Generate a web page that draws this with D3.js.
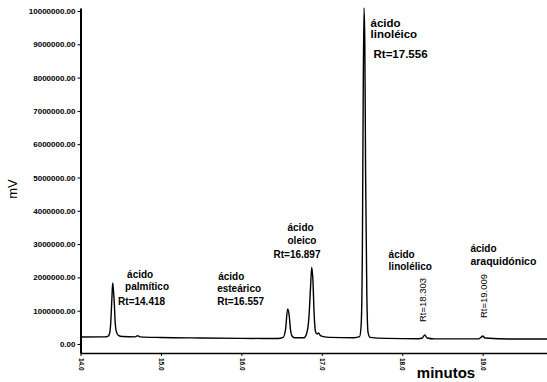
<!DOCTYPE html>
<html>
<head>
<meta charset="utf-8">
<script src="https://cdn.jsdelivr.net/npm/d3@7"></script>
<style>
  body { margin: 0; background: #fff; }
  text { font-family: Arial, "Liberation Sans", sans-serif; fill: #000; }
</style>
</head>
<body>
<svg id="chart" width="547" height="382"></svg>
<script>
// chromatogram trace (minutes, mV)
const traceTime = [14.00, 14.30, 14.34, 14.36, 14.375, 14.39, 14.40, 14.41, 14.42, 14.43, 14.445, 14.47, 14.52,
  14.68, 14.71, 14.74, 15.00, 15.50, 16.00, 16.45, 16.52, 16.55, 16.575, 16.595, 16.61, 16.63, 16.66,
  16.78, 16.81, 16.84, 16.86, 16.875, 16.89, 16.905, 16.92, 16.94, 16.96, 16.98, 17.02, 17.10, 17.40,
  17.47, 17.49, 17.505, 17.515, 17.525, 17.535, 17.545, 17.56, 17.575, 17.60, 17.80, 18.20, 18.25,
  18.28, 18.31, 18.40, 18.95, 18.98, 19.00, 19.03, 19.40, 19.80];
const traceSignal = [210000, 215000, 230000, 300000, 600000, 1350000, 1830000, 1600000, 1250000, 700000, 380000, 260000, 225000,
  215000, 250000, 215000, 195000, 180000, 170000, 165000, 200000, 450000, 1050000, 850000, 450000, 240000, 190000,
  190000, 300000, 800000, 1700000, 2310000, 1900000, 900000, 400000, 300000, 330000, 260000, 220000, 200000, 190000,
  220000, 600000, 3000000, 7500000, 10090000, 9000000, 5000000, 1500000, 350000, 200000, 170000, 160000, 180000,
  270000, 180000, 155000, 155000, 200000, 240000, 180000, 150000, 150000];

const xTicks = [14, 15, 16, 17, 18, 19];
const yTicks = [0, 1000000, 2000000, 3000000, 4000000, 5000000, 6000000, 7000000, 8000000, 9000000, 10000000];

const peakNames = ["palmítico", "esteárico", "oleico", "linoléico", "linolélico", "araquidónico"];
const peakRt = [14.418, 16.557, 16.897, 17.556, 18.303, 19.009];

class Chromatogram {
  constructor(svgId) {
    this.svg = d3.select(svgId);
  }

  draw() {
    let svg = this.svg;
    let xScale = d3.scaleLinear().domain([14, 19.8]).range([80.5, 547]);
    let yScale = d3.scaleLinear().domain([-270000, 10090000]).range([353, 8]);

    // axes
    let yAxis = d3.axisLeft(yScale).tickValues(yTicks).tickSize(3).tickSizeOuter(0)
      .tickFormat(d3.format(".2f"));
    let gy = svg.append("g").attr("transform", "translate(80.5,0)").call(yAxis);
    gy.select(".domain").attr("stroke-width", 2);
    gy.selectAll("text").style("font-size", "8px").style("font-weight", "bold").attr("x", -5);

    let xAxis = d3.axisBottom(xScale).tickValues(xTicks).tickSize(3).tickSizeOuter(0)
      .tickFormat(d3.format(".1f"));
    let gx = svg.append("g").attr("transform", "translate(0,353)").call(xAxis);
    gx.select(".domain").attr("stroke-width", 1.5);
    gx.selectAll("text")
      .style("font-size", "6.5px").style("font-weight", "bold")
      .attr("y", 0).attr("x", 5).attr("dy", "0.35em")
      .attr("transform", "rotate(90)")
      .style("text-anchor", "start");

    // trace
    let pts = traceTime.map((t, i) => [t, traceSignal[i]]);
    let line = d3.line().x(d => xScale(d[0])).y(d => yScale(d[1])).curve(d3.curveMonotoneX);
    svg.append("path").datum(pts)
      .attr("d", line)
      .attr("fill", "none")
      .attr("stroke", "#000")
      .attr("stroke-width", 1.4);

    // axis titles
    svg.append("text").text("mV")
      .attr("transform", "translate(17,189) rotate(-90)")
      .style("text-anchor", "middle").style("font-size", "13px");
    svg.append("text").text("minutos")
      .attr("x", 446).attr("y", 378)
      .style("text-anchor", "middle").style("font-size", "15px").style("font-weight", "bold");

    // peak labels: [dx line1, dx line2, dx rt, y line1, y line2, y rt, font]
    let layout = [
      [13, 11, 4, 278, 290, 305, 10],
      [-68, -69, -69, 280, 292, 305, 10],
      [-26, -26, -40, 231, 244, 258, 10],
      [4, 4, 7, 27, 38, 58, 11.5]
    ];
    layout.forEach((l, i) => {
      let px = xScale(peakRt[i]);
      let g = svg.append("g").style("font-size", l[6] + "px").style("font-weight", "bold");
      g.append("text").text("ácido").attr("x", px + l[0]).attr("y", l[3]);
      g.append("text").text(peakNames[i]).attr("x", px + l[1]).attr("y", l[4]);
      g.append("text").text("Rt=" + d3.format(".3f")(peakRt[i])).attr("x", px + l[2]).attr("y", l[5]);
    });

    // small peaks with rotated Rt
    let small = [[-38, 258, 270, -1, 322, 10], [-13, 252, 265, 4, 318, 10.5]];
    small.forEach((l, j) => {
      let i = j + 4;
      let px = xScale(peakRt[i]);
      let g = svg.append("g").style("font-weight", "bold");
      g.append("text").text("ácido").attr("x", px + l[0]).attr("y", l[1]).style("font-size", "10px");
      g.append("text").text(peakNames[i]).attr("x", px + l[0]).attr("y", l[2]).style("font-size", l[5] + "px");
      g.append("text").text("Rt=" + d3.format(".3f")(peakRt[i]))
        .attr("transform", "translate(" + (px + l[3]) + "," + l[4] + ") rotate(-90)")
        .style("font-size", "9.5px").style("font-weight", "normal");
    });
  }
}

let chart = new Chromatogram("#chart");
chart.draw();
</script>
</body>
</html>
